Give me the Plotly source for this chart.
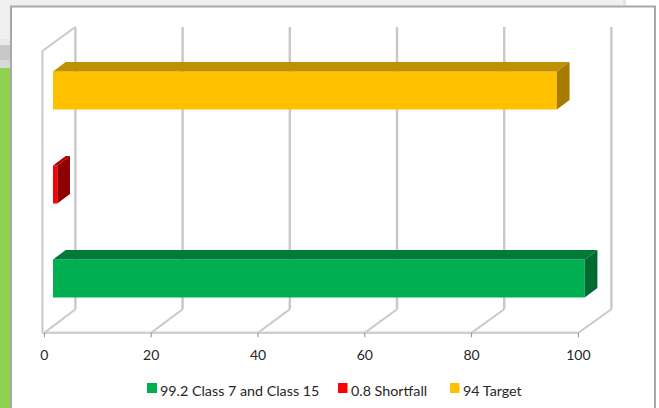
import plotly.graph_objects as go

categories = ["99.2 Class 7 and Class 15", "0.8 Shortfall", "94 Target"]
values = [99.2, 0.8, 94]
tick_values = [0, 20, 40, 60, 80, 100]
front_colors = ["#00B050", "#FF0000", "#FFC000"]
top_colors = ["#007A38", "#B30000", "#BF9000"]
side_colors = ["#006B30", "#8F0000", "#A67C00"]

W, H = 659, 408
PLOT_L, PLOT_R, PLOT_T, PLOT_B = 36.0, 620.0, 24.0, 342.0
ZERO_PX = 44.4          # pixel of value 0 on the front edge
FLOOR_PX = 332.8        # pixel of the front floor edge
PX_PER_UNIT = 5.34      # front axis scale
BAR_PX_PER_UNIT = 5.36  # scale of the bars and back wall (slightly nearer in the projection)
PX_PER_CAT = 94.0
CAT0_PX = 278.5


def x_range(scale):
    return [(PLOT_L - ZERO_PX) / scale, (PLOT_R - ZERO_PX) / scale]


Y_RANGE = [(CAT0_PX - PLOT_B) / PX_PER_CAT, (CAT0_PX - PLOT_T) / PX_PER_CAT]
Y_FLOOR = (CAT0_PX - FLOOR_PX) / PX_PER_CAT
Y_TOP = (CAT0_PX - 27) / PX_PER_CAT
Y_TOP_FRONT = (CAT0_PX - 51) / PX_PER_CAT
WALL_DX = 31 / BAR_PX_PER_UNIT
WALL_DY = 23.5 / PX_PER_CAT
BAR_X0 = 8.6 / BAR_PX_PER_UNIT
BAR_DX = 12.7 / BAR_PX_PER_UNIT
BAR_DY = 9.5 / PX_PER_CAT
BAR_H = 38 / PX_PER_CAT
GRID = "#C8C8C8"
FRAME = "#A8A8A8"


def px(x):
    return (x - PLOT_L) / (PLOT_R - PLOT_L)


def py(y):
    return (PLOT_B - y) / (PLOT_B - PLOT_T)


shapes = []
annotations = []


def rect(x0, y0, x1, y1, fill, line=None, width=0, layer="below"):
    shapes.append(dict(type="rect", xref="paper", yref="paper", x0=px(x0), x1=px(x1), y0=py(y0), y1=py(y1),
                       fillcolor=fill, line=dict(color=line or fill, width=width), layer=layer))


def seg(x0, y0, x1, y1, color=GRID, width=2.4):
    shapes.append(dict(type="line", xref="x2", yref="y", x0=x0, y0=y0, x1=x1, y1=y1,
                       line=dict(color=color, width=width), layer="below"))


# surrounding screenshot background
rect(0, 0, 623, 6, "#F0F0F0")
rect(623, 0, 626, 6, "#E4E4E4")
rect(0, 0, 10, 39, "#F0F0F0")
rect(0, 39, 10, 45, "#E8E8E8")
rect(0, 45, 10, 60, "#C8C8C8")
rect(0, 60, 10, 68, "#D8D8D8")
rect(0, 68, 10, 408, "#92D050")
rect(11, 6.5, 655, 420, "#FFFFFF", FRAME, 2)

# walls, floor and gridlines of the box (all on the bar scale)
front_factor = PX_PER_UNIT / BAR_PX_PER_UNIT
for t in tick_values:
    seg(t + WALL_DX, Y_FLOOR + WALL_DY, t + WALL_DX, Y_TOP)
    seg(t * front_factor, Y_FLOOR, t + WALL_DX, Y_FLOOR + WALL_DY, GRID, 2)
left = -2 / BAR_PX_PER_UNIT
seg(left, Y_FLOOR, left, Y_TOP_FRONT, GRID, 2)
seg(left, Y_TOP_FRONT, WALL_DX, Y_TOP, GRID, 2)
seg(left, Y_FLOOR, 100 * front_factor, Y_FLOOR, "#D0D0D0", 2.6)
for t in tick_values:
    seg(t * front_factor, Y_FLOOR, t * front_factor, Y_FLOOR - 4.5 / PX_PER_CAT, "#8C8C8C", 1)

fig = go.Figure()
# dummy-free: the first axis carries the tick labels, the bars use the overlaying scale x2
fig.add_trace(go.Scatter(x=tick_values, y=[Y_FLOOR] * len(tick_values), mode="none", showlegend=False,
                         hoverinfo="skip", xaxis="x"))
for i, (name, v) in enumerate(zip(categories, values)):
    fig.add_trace(go.Bar(y=[i], x=[v], base=[BAR_X0], width=BAR_H, orientation="h", name=name, xaxis="x2",
                         showlegend=False, marker=dict(color=front_colors[i], line=dict(width=0)), hoverinfo="skip"))
for i, v in enumerate(values):
    x0, x1 = BAR_X0, BAR_X0 + v
    top, bot = i + BAR_H / 2, i - BAR_H / 2
    fig.add_trace(go.Scatter(x=[x0, x1, x1 + BAR_DX, x0 + BAR_DX, x0], y=[top, top, top + BAR_DY, top + BAR_DY, top],
                             xaxis="x2", fill="toself", fillcolor=top_colors[i], mode="none", showlegend=False,
                             hoverinfo="skip"))
    fig.add_trace(go.Scatter(x=[x1, x1 + BAR_DX, x1 + BAR_DX, x1, x1], y=[top, top + BAR_DY, bot + BAR_DY, bot, top],
                             xaxis="x2", fill="toself", fillcolor=side_colors[i], mode="none", showlegend=False,
                             hoverinfo="skip"))

# legend placed to match the reference's tight swatch-to-text spacing
legend_swatch = [(147, 157), (338, 347.5), (450, 459.5)]
legend_text = [160.7, 352, 464]
for (s0, s1), tx, name, c in zip(legend_swatch, legend_text, categories, front_colors):
    rect(s0, 383, s1, 393, c, layer="above")
    annotations.append(dict(xref="paper", yref="paper", x=px(tx), y=py(390), xanchor="left", yanchor="middle",
                            text=name, showarrow=False, borderpad=0, borderwidth=0, xshift=-1,
                            font=dict(size=14.3, family="Lato, Carlito, sans-serif", color="#262626")))

fig.update_layout(
    width=W, height=H, paper_bgcolor="#FFFFFF", plot_bgcolor="rgba(0,0,0,0)",
    margin=dict(l=PLOT_L, r=W - PLOT_R, t=PLOT_T, b=H - PLOT_B, pad=0, autoexpand=False),
    font=dict(family="Lato, Carlito, sans-serif", size=14, color="#262626"),
    barmode="overlay", shapes=shapes, annotations=annotations, showlegend=False,
    xaxis=dict(range=x_range(PX_PER_UNIT), tickvals=tick_values, showgrid=False, zeroline=False, showline=False,
               ticks="", tickfont=dict(size=14), tickangle=0, ticklabelstandoff=3),
    xaxis2=dict(range=x_range(BAR_PX_PER_UNIT), overlaying="x", visible=False),
    yaxis=dict(range=Y_RANGE, visible=False),
)
fig.write_html("out.html", config=dict(displayModeBar=False),
               post_script="document.body.style.margin='0';document.body.style.overflow='hidden';")
